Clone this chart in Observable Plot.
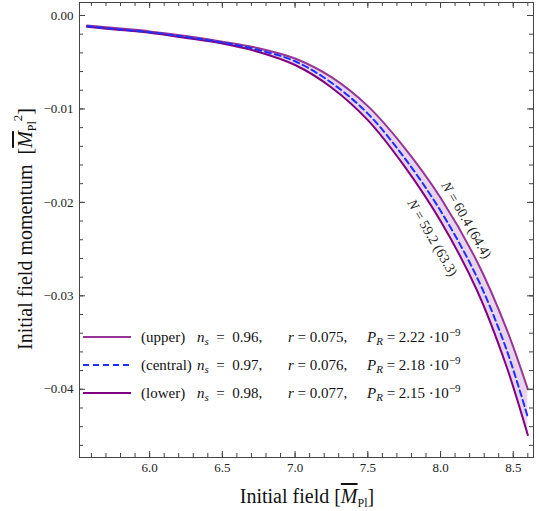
<!DOCTYPE html>
<html><head><meta charset="utf-8">
<script src="https://cdn.jsdelivr.net/npm/d3@7"></script>
<script src="https://cdn.jsdelivr.net/npm/@observablehq/plot@0.6"></script>
<style>body{margin:0;background:#fff} #chart svg{display:block}</style>
</head><body><div id="chart"></div>
<script>
// ---- data ----
const fieldX   = [5.57, 5.8, 6.0, 6.25, 6.5, 6.75, 7.0, 7.25, 7.5, 7.75, 8.0, 8.25, 8.45, 8.6];
const upperY   = [-0.00107, -0.0014, -0.0017, -0.0022, -0.0028, -0.0035, -0.0046, -0.0066, -0.0097, -0.0141, -0.0195, -0.0263, -0.0334, -0.0400];
const centralY = [-0.00115, -0.0015, -0.0018, -0.0023, -0.0029, -0.0037, -0.0049, -0.0072, -0.0105, -0.0152, -0.0209, -0.0280, -0.0356, -0.0430];
const lowerY   = [-0.00121, -0.00155, -0.00185, -0.0024, -0.0030, -0.0039, -0.0053, -0.0077, -0.0112, -0.0161, -0.0220, -0.0294, -0.0374, -0.0449];

const xTicks = [6.0, 6.5, 7.0, 7.5, 8.0, 8.5];
const yTicks = [0, -0.01, -0.02, -0.03, -0.04];
const xMinor = d3.range(5.6, 8.65, 0.1);
const yMinor = d3.range(-0.046, 0.0011, 0.002);

const seriesNames = ["(upper)", "(central)", "(lower)"];
const nsValues = ["0.96", "0.97", "0.98"];
const rValues  = ["0.075", "0.076", "0.077"];
const prValues = ["2.22", "2.18", "2.15"];

const annotX = [8.178, 7.944];
const annotY = [-0.0219, -0.0238];
const annotText = ["N = 60.4 (64.4)", "N = 59.2 (63.3)"];

// ---- build ----
const rows = fieldX.map((x, i) => ({x, upper: upperY[i], central: centralY[i], lower: lowerY[i]}));
const ann = annotX.map((x, i) => ({x, y: annotY[i], t: annotText[i]}));

const W = 539, H = 511, mT = 2, mB = 54, mL = 79, mR = 6;
const fh = H - mT - mB, fw = W - mL - mR;
const col = {upper: "#963596", lower: "#800080", central: "#1f2fff", band: "#e8d5ec"};
const serif = "Liberation Serif, Times New Roman, serif";

const plot = Plot.plot({
  width: W, height: H,
  marginTop: mT, marginBottom: mB, marginLeft: mL, marginRight: mR,
  style: {fontFamily: serif, fontSize: "13px", color: "#222", background: "#fff"},
  x: {domain: [5.518, 8.639]},
  y: {domain: [-0.0473, 0.00139]},
  marks: [
    Plot.areaY(rows, {x: "x", y1: "lower", y2: "upper", fill: col.band, curve: "catmull-rom"}),
    Plot.line(rows, {x: "x", y: "upper", stroke: col.upper, strokeWidth: 2, curve: "catmull-rom"}),
    Plot.line(rows, {x: "x", y: "lower", stroke: col.lower, strokeWidth: 2, curve: "catmull-rom"}),
    Plot.line(rows, {x: "x", y: "central", stroke: col.central, strokeWidth: 2, strokeDasharray: "6,4", curve: "catmull-rom"}),
    Plot.text(ann, {x: "x", y: "y", text: "t", rotate: 60, fontSize: 14, fontFamily: serif, fill: "#222", className: "ann"}),
    Plot.frame({stroke: "#444"}),
    Plot.tickX(xTicks, {x: d => d, insetTop: fh - 6, stroke: "#444"}),
    Plot.tickX(xTicks, {x: d => d, insetBottom: fh - 6, stroke: "#444"}),
    Plot.tickX(xMinor, {x: d => d, insetTop: fh - 4, stroke: "#444"}),
    Plot.tickX(xMinor, {x: d => d, insetBottom: fh - 4, stroke: "#444"}),
    Plot.tickY(yTicks, {y: d => d, insetRight: fw - 6, stroke: "#444"}),
    Plot.tickY(yTicks, {y: d => d, insetLeft: fw - 6, stroke: "#444"}),
    Plot.tickY(yMinor, {y: d => d, insetRight: fw - 4, stroke: "#444"}),
    Plot.tickY(yMinor, {y: d => d, insetLeft: fw - 4, stroke: "#444"}),
    Plot.axisX({ticks: xTicks, tickSize: 0, tickPadding: 5, tickFormat: d3.format(".1f"), label: null, fontSize: 13, fontFamily: serif}),
    Plot.axisY({ticks: yTicks, tickSize: 0, tickPadding: 6, tickFormat: d3.format(".2f"), label: null, fontSize: 13, fontFamily: serif})
  ]
});
document.getElementById("chart").appendChild(plot);

const svg = d3.select(plot);
svg.attr("font-family", serif).style("font-family", serif);
svg.selectAll("text").attr("font-family", serif);

// italic N in annotations
svg.selectAll("g.ann text").each(function() {
  const t = this.textContent;
  const el = d3.select(this);
  el.text(null);
  el.append("tspan").attr("font-style", "italic").text(t.slice(0, 1));
  el.append("tspan").text(t.slice(1));
});

// axis titles
const xl = svg.append("text").attr("x", 307).attr("y", 503).attr("text-anchor", "middle")
  .attr("font-size", 20).attr("fill", "#111").attr("font-family", serif);
xl.append("tspan").text("Initial field [");
xl.append("tspan").attr("font-style", "italic").style("text-decoration", "overline").text("M");
xl.append("tspan").attr("font-size", 12).attr("dy", 4).text("Pl");
xl.append("tspan").attr("dy", -4).text("]");

const yl = svg.append("text").attr("transform", "translate(32,229) rotate(-90)").attr("text-anchor", "middle")
  .attr("font-size", 20).attr("fill", "#111").attr("font-family", serif);
yl.append("tspan").text("Initial field momentum\u00a0\u00a0[");
yl.append("tspan").attr("font-style", "italic").style("text-decoration", "overline").text("M");
yl.append("tspan").attr("font-size", 12).attr("dy", 4).text("Pl");
yl.append("tspan").attr("font-size", 13).attr("dy", -14).text("2");
yl.append("tspan").attr("dy", 10).text("]");

// legend
const lg = svg.append("g").attr("font-family", serif).attr("font-size", 15).attr("fill", "#111")
  .attr("text-anchor", "start");
const lineCols = [col.upper, col.central, col.lower];
seriesNames.forEach((name, i) => {
  const cy = 337 + 28 * i;
  lg.append("line").attr("x1", 83).attr("x2", 131).attr("y1", cy).attr("y2", cy)
    .attr("stroke", lineCols[i]).attr("stroke-width", 2)
    .attr("stroke-dasharray", i === 1 ? "6,4" : null);
  const by = cy + 5;
  lg.append("text").attr("x", 141).attr("y", by).text(name);
  const t1 = lg.append("text").attr("x", 197).attr("y", by);
  t1.append("tspan").attr("font-style", "italic").text("n");
  t1.append("tspan").attr("font-style", "italic").attr("font-size", 11).attr("dy", 3).text("s");
  t1.append("tspan").attr("dy", -3).text("\u00a0\u00a0=\u00a0\u00a0" + nsValues[i] + ",");
  const t2 = lg.append("text").attr("x", 288).attr("y", by);
  t2.append("tspan").attr("font-style", "italic").text("r");
  t2.append("tspan").text(" = " + rValues[i] + ",");
  const t3 = lg.append("text").attr("x", 367).attr("y", by);
  t3.append("tspan").attr("font-style", "italic").text("P");
  t3.append("tspan").attr("font-style", "italic").attr("font-size", 11).attr("dy", 3).text("R");
  t3.append("tspan").attr("dy", -3).text(" = " + prValues[i] + " \u00b710");
  t3.append("tspan").attr("font-size", 11).attr("dy", -6).text("\u22129");
});
</script>
</body></html>
